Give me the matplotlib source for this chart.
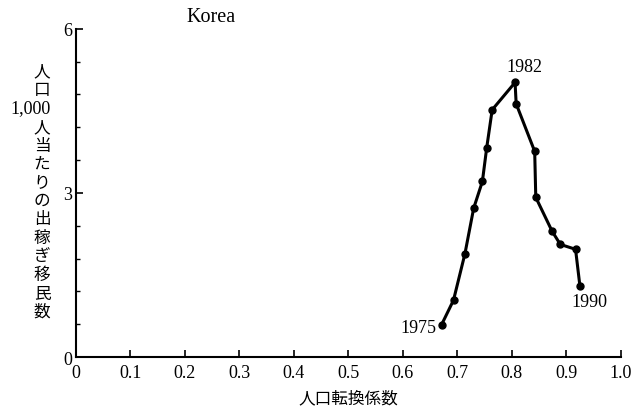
import matplotlib.pyplot as plt
import numpy as np

# 人口転換係数 (x) vs 人口1,000人当たりの出稼ぎ移民数 (y), Korea 1975-1990
conv_coef = [0.671, 0.693, 0.714, 0.730, 0.746, 0.754, 0.764, 0.806,
             0.808, 0.842, 0.844, 0.874, 0.889, 0.917, 0.925]
migrants = [0.59, 1.04, 1.89, 2.72, 3.21, 3.83, 4.52, 5.02,
            4.63, 3.76, 2.92, 2.30, 2.06, 1.97, 1.30]
year_labels = {0: "1975", 7: "1982", 14: "1990"}

x_ticks = np.round(np.arange(0, 1.01, 0.1), 1)
x_ticklabels = ["0"] + [f"{v:.1f}" for v in x_ticks[1:]]
y_ticks = [0, 3, 6]

ylabel_lines = ["人", "口", "1,000", "人", "当", "た", "り", "の",
                "出", "稼", "ぎ", "移", "民", "数"]

SERIF = ["Liberation Serif", "DejaVu Serif"]
CJK = ["Noto Sans CJK JP", "DejaVu Sans"]

fig = plt.figure(figsize=(6.38, 4.14), dpi=100)
ax = fig.add_axes([0.119, 0.135, 0.854, 0.793])

ax.plot(conv_coef, migrants, color="black", linewidth=2.2,
        marker="o", markersize=5, markerfacecolor="black")

offsets = {0: ((-4, -2), "right", "center"),
           7: ((7, 5), "center", "bottom"),
           14: ((7, -5), "center", "top")}
for i, lab in year_labels.items():
    off, ha, va = offsets[i]
    ax.annotate(lab, (conv_coef[i], migrants[i]), xytext=off,
                textcoords="offset points", ha=ha, va=va,
                fontsize=13, family=SERIF)

ax.set_xlim(0, 1.0)
ax.set_ylim(0, 6)
ax.spines["top"].set_visible(False)
ax.spines["right"].set_visible(False)
for s in ("left", "bottom"):
    ax.spines[s].set_linewidth(1.5)

ax.set_xticks(x_ticks)
ax.set_xticklabels(x_ticklabels, family=SERIF, fontsize=13)
ax.set_yticks(y_ticks)
ax.set_yticklabels([str(v) for v in y_ticks], family=SERIF, fontsize=13)
ax.set_yticks(np.arange(0, 6.01, 0.6), minor=True)
ax.tick_params(axis="x", direction="in", length=5, width=1.2, pad=5)
ax.tick_params(axis="y", direction="in", length=5, width=1.2, pad=3)
ax.tick_params(axis="y", which="minor", direction="in", length=3, width=1.0)
ax.tick_params(axis="x", which="minor", length=0)

ax.set_xlabel("人口転換係数", family=CJK, fontsize=12, labelpad=6)

# vertical stacked y label, one line per glyph group
top_y, pitch = 72, 18.5
for k, line in enumerate(ylabel_lines):
    serif = line[0].isdigit()
    fig.text((31 if serif else 42) / 638, 1 - (top_y + k * pitch) / 414, line,
             ha="center", va="center", fontsize=13 if serif else 12,
             family=SERIF if serif else CJK)

fig.text(211 / 638, 1 - 17 / 414, "Korea", ha="center", va="center",
         fontsize=14.5, family=SERIF)

fig.savefig("out.png", dpi=100)
